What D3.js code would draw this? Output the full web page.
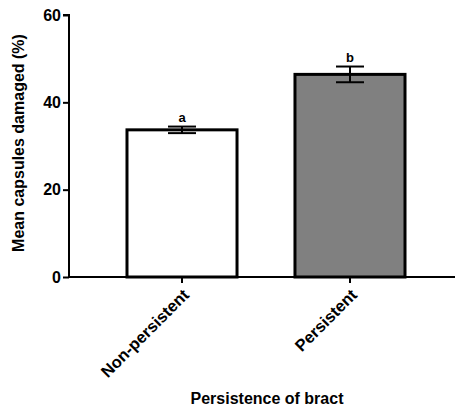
<!DOCTYPE html>
<html>
<head>
<meta charset="utf-8">
<script src="https://cdn.jsdelivr.net/npm/d3@7"></script>
<style>
  body { margin: 0; background: #fff; }
  text { font-family: "Liberation Sans", Arial, sans-serif; font-weight: bold; }
</style>
</head>
<body>
<div id="chart"></div>
<script>
const categories = ["Non-persistent", "Persistent"];
const means = [33.7, 46.4];
const errors = [0.75, 1.8];
const letters = ["a", "b"];
const fills = ["#ffffff", "#808080"];
const yTicks = [0, 20, 40, 60];

const width = 458, height = 409;
const axisLeft = 69, axisRight = 455, yTop = 15, yBottom = 277;

const svg = d3.select("#chart").append("svg")
  .attr("width", width)
  .attr("height", height);

const x = d3.scaleBand().domain(categories).range([98, 434])
  .paddingInner(0.345).paddingOuter(0.1726);
const y = d3.scaleLinear().domain([0, 60]).range([yBottom, yTop]);

// bars
svg.selectAll(".bar")
  .data(categories)
  .enter().append("rect")
  .attr("class", "bar")
  .attr("x", d => x(d))
  .attr("y", (d, i) => y(means[i]))
  .attr("width", x.bandwidth())
  .attr("height", (d, i) => y(0) - y(means[i]))
  .attr("fill", (d, i) => fills[i])
  .attr("stroke", "#000")
  .attr("stroke-width", 3);

// error bars
const capW = 28;
const err = svg.append("g").attr("stroke", "#000").attr("stroke-width", 2);
categories.forEach((c, i) => {
  const cx = x(c) + x.bandwidth() / 2;
  err.append("line").attr("x1", cx).attr("x2", cx)
    .attr("y1", y(means[i] + errors[i])).attr("y2", y(means[i] - errors[i]));
  err.append("line").attr("x1", cx - capW / 2).attr("x2", cx + capW / 2)
    .attr("y1", y(means[i] + errors[i])).attr("y2", y(means[i] + errors[i]));
  err.append("line").attr("x1", cx - capW / 2).attr("x2", cx + capW / 2)
    .attr("y1", y(means[i] - errors[i])).attr("y2", y(means[i] - errors[i]));
  svg.append("text")
    .attr("x", cx)
    .attr("y", y(means[i] + errors[i]) - 5)
    .attr("text-anchor", "middle")
    .attr("font-size", 13)
    .text(letters[i]);
});

// y axis
const yAxis = svg.append("g")
  .attr("transform", "translate(" + axisLeft + ",0)")
  .call(d3.axisLeft(y).tickValues(yTicks).tickSize(6).tickPadding(2));
yAxis.select(".domain").attr("stroke-width", 2).attr("d", "M-6," + yTop + "H0V" + yBottom);
yAxis.selectAll(".tick line").attr("stroke-width", 2);
yAxis.selectAll(".tick text").attr("font-size", 16).attr("fill", "#000")
  .style("font-family", "'Liberation Sans', Arial, sans-serif").style("font-weight", "bold");

// x axis
const xAxis = svg.append("g")
  .attr("transform", "translate(0," + yBottom + ")")
  .call(d3.axisBottom(x).tickSize(6).tickPadding(4));
xAxis.select(".domain").attr("stroke-width", 2).attr("d", "M" + axisLeft + ",0H" + axisRight);
xAxis.selectAll(".tick line").attr("stroke-width", 2);
xAxis.selectAll(".tick text")
  .attr("font-size", 16.5).attr("fill", "#000")
  .style("font-family", "'Liberation Sans', Arial, sans-serif").style("font-weight", "bold")
  .attr("text-anchor", "end")
  .attr("dy", "0.35em")
  .attr("transform", "translate(4,15) rotate(-45)")
  .attr("x", 0).attr("y", 0);

// axis titles
svg.append("text")
  .attr("x", (axisLeft + axisRight) / 2 + 5)
  .attr("y", 404)
  .attr("text-anchor", "middle")
  .attr("font-size", 16)
  .text("Persistence of bract");

svg.append("text")
  .attr("transform", "translate(24," + ((yTop + yBottom) / 2 - 3) + ") rotate(-90)")
  .attr("text-anchor", "middle")
  .attr("font-size", 16)
  .text("Mean capsules damaged (%)");
</script>
</body>
</html>
